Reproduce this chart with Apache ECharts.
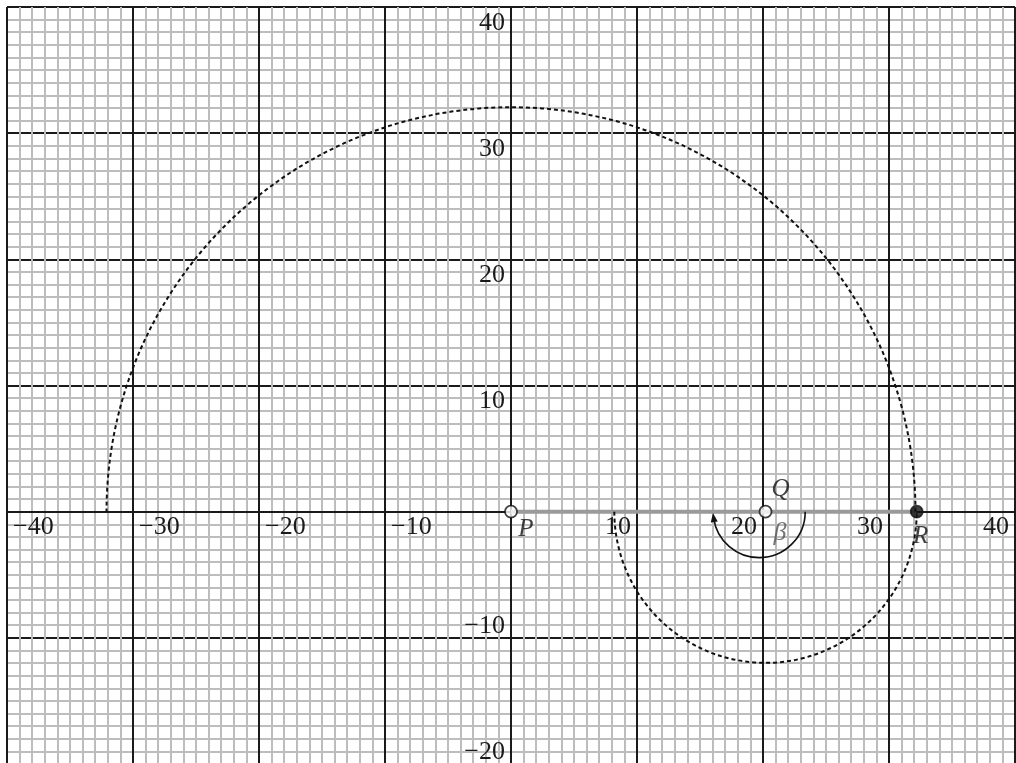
<!DOCTYPE html>
<html>
<head>
<meta charset="utf-8">
<script src="https://cdn.jsdelivr.net/npm/echarts@6/dist/echarts.min.js"></script>
<style>
html, body { margin: 0; padding: 0; background: #fff; }
#chart { width: 1016px; height: 763px; }
</style>
</head>
<body>
<div id="chart"></div>
<script>
var serif = '"Liberation Serif", "Times New Roman", serif';

// axis ranges and tick labels
var xRange = [-40, 40];
var yRange = [-20, 40];
var tickStep = 10;
var xTickValues = [-40, -30, -20, -10, 10, 20, 30, 40];
var yTickValues = [-20, -10, 10, 20, 30, 40];

// points on the x axis
var pointNames = ['P', 'Q', 'R'];
var pointX = [0, 20.2, 32.2];
var pointY = [0, 0, 0];
var pointFilled = [false, false, true];

// segment P -> R
var segmentX = [0, 32.2];
var segmentY = [0, 0];

// arcs: centre x, centre y, radius, start / end angle (degrees, ccw from +x)
var arcCx = [0, 20.2, 19.7];
var arcCy = [0, 0, 0];
var arcR = [32.1, 12, 3.65];
var arcFrom = [0, 180, 0];
var arcTo = [180, 360, -172];
var arcDashed = [1, 1, 0];

// angle label
var betaText = '\u03b2';
var betaPos = [21.35, -1.7];

// build what the library needs
var arcData = arcCx.map(function (cx, i) {
    return [cx, arcCy[i], arcR[i], arcFrom[i], arcTo[i], arcDashed[i]];
});
var labelOffsets = { P: [15, 18], Q: [15, -22], R: [4, 25] };
var pointData = pointNames.map(function (n, i) {
    return {
        name: n,
        value: [pointX[i], pointY[i]],
        itemStyle: { color: pointFilled[i] ? '#111' : '#fff' },
        label: { offset: labelOffsets[n] }
    };
});
var segmentData = segmentX.map(function (x, i) { return [x, segmentY[i]]; });
// tick label rows: x, y, which axis (0 = x, 1 = y)
var tickData = xTickValues.map(function (v) { return [v, 0, 0]; })
    .concat(yTickValues.map(function (v) { return [0, v, 1]; }));

function tickText(v) {
    return v < 0 ? '\u2212' + (-v) : String(v);
}
var gridLine = { color: '#1a1a1a', width: 2 };
var minorLine = { color: '#bdbdbd', width: 2 };

function axisCfg(range) {
    return {
        type: 'value', min: range[0], max: range[1], interval: tickStep,
        axisLine: { show: true, onZero: true, lineStyle: gridLine },
        axisTick: { show: false },
        axisLabel: { show: false },
        splitLine: { show: true, lineStyle: gridLine },
        minorTick: { show: false, splitNumber: 10 },
        minorSplitLine: { show: true, lineStyle: minorLine }
    };
}

var chart = echarts.init(document.getElementById('chart'));
chart.setOption({
    backgroundColor: '#fff',
    animation: false,
    grid: { left: 7, top: 7, width: 1008, height: 757, outerBoundsMode: 'none' },
    xAxis: axisCfg(xRange),
    yAxis: axisCfg(yRange),
    series: [
        {
            type: 'line',
            data: segmentData,
            symbol: 'none',
            lineStyle: { color: '#9a9a9a', width: 4 },
            z: 3
        },
        {
            // tick labels, placed with the axis scales
            type: 'custom',
            data: tickData,
            z: 5,
            silent: true,
            renderItem: function (params, api) {
                var x = api.value(0), y = api.value(1), onY = api.value(2) === 1;
                var p = api.coord([x, y]);
                var v = onY ? y : x;
                var style = { text: tickText(v), fill: '#1a1a1a', font: '26px ' + serif };
                if (!onY) {
                    style.align = v < 0 ? 'left' : 'right';
                    style.verticalAlign = 'top';
                    return { type: 'text', x: p[0] + (v < 0 ? 6 : -6), y: p[1] + 3, style: style };
                }
                style.align = 'right';
                style.verticalAlign = v < 0 ? 'bottom' : 'top';
                return { type: 'text', x: p[0] - 6, y: p[1] + (v < 0 ? 1 : 3), style: style };
            }
        },
        {
            type: 'custom',
            data: arcData,
            z: 4,
            renderItem: function (params, api) {
                var c = api.coord([api.value(0), api.value(1)]);
                var r = api.size([api.value(2), 0])[0];
                var s = -api.value(3) * Math.PI / 180;
                var e = -api.value(4) * Math.PI / 180;
                var dashed = api.value(5) === 1;
                var cw = e > s;
                var kids = [{
                    type: 'arc',
                    shape: { cx: c[0], cy: c[1], r: r, startAngle: s, endAngle: e, clockwise: cw },
                    style: { fill: null, stroke: '#111', lineWidth: dashed ? 2 : 1.6, lineDash: dashed ? [4, 3] : null }
                }];
                if (!dashed) {
                    // arrow head at the end of the angle arc
                    var ex = c[0] + r * Math.cos(e), ey = c[1] + r * Math.sin(e);
                    var dx = cw ? -Math.sin(e) : Math.sin(e);
                    var dy = cw ? Math.cos(e) : -Math.cos(e);
                    var nx = -dy, ny = dx;
                    kids.push({
                        type: 'polygon',
                        shape: { points: [
                            [ex + dx * 5, ey + dy * 5],
                            [ex - dx * 4 + nx * 3.5, ey - dy * 4 + ny * 3.5],
                            [ex - dx * 4 - nx * 3.5, ey - dy * 4 - ny * 3.5]
                        ] },
                        style: { fill: '#111' }
                    });
                }
                return { type: 'group', children: kids };
            }
        },
        {
            type: 'scatter',
            data: pointData,
            symbol: 'circle',
            symbolSize: 12,
            itemStyle: { borderColor: '#111', borderWidth: 1.8 },
            label: {
                show: true, formatter: '{b}', position: 'inside',
                fontFamily: serif, fontStyle: 'italic', fontSize: 25, color: '#111'
            },
            z: 6
        },
        {
            type: 'scatter',
            data: [betaPos],
            symbolSize: 1,
            itemStyle: { color: 'rgba(0,0,0,0)' },
            label: {
                show: true, formatter: betaText, position: 'inside',
                fontFamily: serif, fontStyle: 'italic', fontSize: 26, color: '#555'
            },
            z: 6
        }
    ]
});
</script>
</body>
</html>
